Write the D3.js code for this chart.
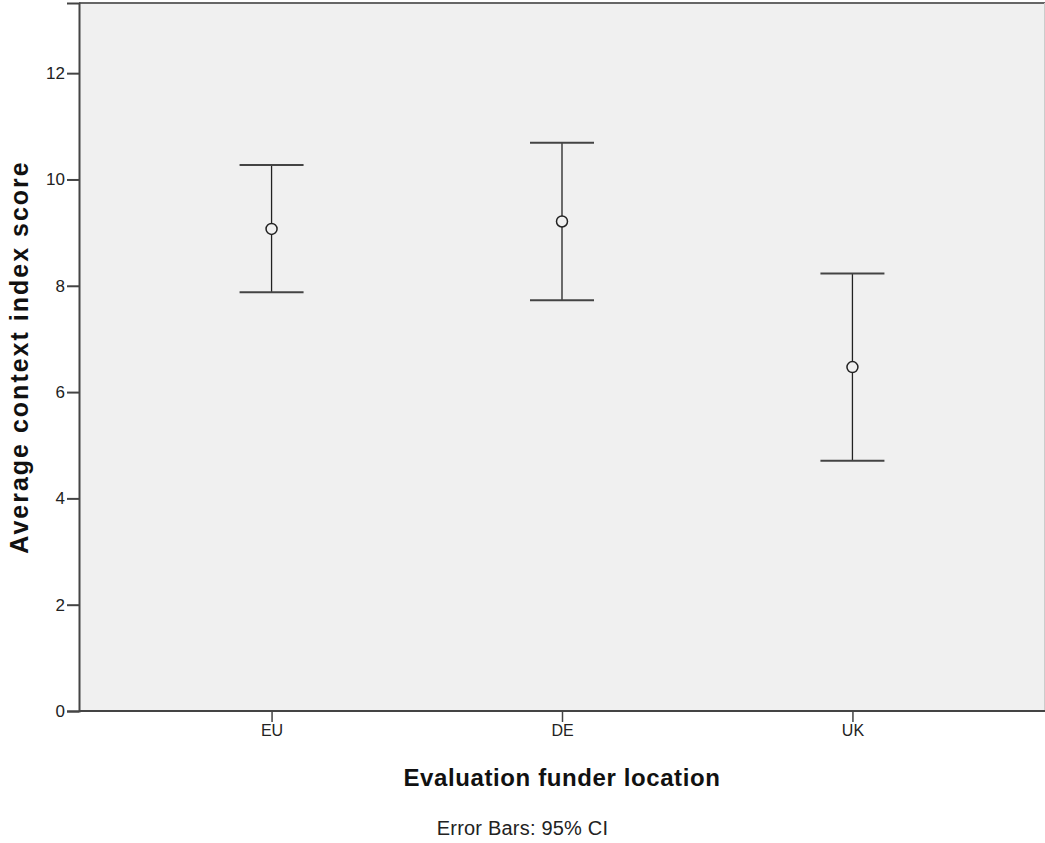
<!DOCTYPE html>
<html>
<head>
<meta charset="utf-8">
<script src="https://cdn.jsdelivr.net/npm/d3@7"></script>
<style>
  html, body { margin: 0; padding: 0; background: #fff; }
  svg { display: block; font-family: "Liberation Sans", Arial, sans-serif; }
</style>
</head>
<body>
<div id="chart"></div>
<script>
// Data
const categories = ['EU', 'DE', 'UK'];
const means = [9.07, 9.21, 6.47];
const lowerCI = [7.88, 7.73, 4.71];
const upperCI = [10.27, 10.69, 8.23];
const yTicks = [0, 2, 4, 6, 8, 10, 12];

const width = 1045, height = 843;
const margin = { top: 3, right: 0, bottom: 132, left: 79 };

const svg = d3.select('#chart')
    .append('svg')
    .attr('width', width)
    .attr('height', height);

const x = d3.scalePoint()
    .domain(categories)
    .range([margin.left, width - margin.right])
    .padding(0.663);

const y = d3.scaleLinear()
    .domain([0, 13.32])
    .range([height - margin.bottom, margin.top]);

// Plot background
svg.append('rect')
    .attr('x', margin.left)
    .attr('y', margin.top)
    .attr('width', width - margin.left - margin.right)
    .attr('height', height - margin.top - margin.bottom)
    .attr('fill', '#f0f0f0');

// top frame line
svg.append('line')
    .attr('x1', margin.left).attr('x2', width)
    .attr('y1', margin.top).attr('y2', margin.top)
    .attr('stroke', '#666').attr('stroke-width', 2);

// right edge
svg.append('line')
    .attr('x1', width - 0.5).attr('x2', width - 0.5)
    .attr('y1', margin.top).attr('y2', height - margin.bottom)
    .attr('stroke', '#ccc').attr('stroke-width', 1);

// Axes
const yAxis = d3.axisLeft(y).tickValues(yTicks).tickSize(12).tickPadding(2);
const gy = svg.append('g')
    .attr('transform', `translate(${margin.left},0)`)
    .call(yAxis);
gy.select('.domain').attr('stroke', '#444').attr('stroke-width', 2);
gy.selectAll('.tick line').attr('stroke', '#444').attr('stroke-width', 2).attr('x2', -12);
gy.selectAll('.tick text').attr('fill', '#222').style('font-size', '17px');

const xAxis = d3.axisBottom(x).tickSize(11).tickPadding(3);
const gx = svg.append('g')
    .attr('transform', `translate(0,${height - margin.bottom})`)
    .call(xAxis);
gx.select('.domain').attr('stroke', '#444').attr('stroke-width', 2).attr('d', `M${margin.left},0H${width}`);
gx.selectAll('.tick line').attr('stroke', '#444').attr('stroke-width', 1.5);
gx.selectAll('.tick text').attr('fill', '#222').style('font-size', '16px');

// Error bars
const rows = categories.map((c, i) => ({ c, m: means[i], lo: lowerCI[i], hi: upperCI[i] }));
const capHalf = 32;

const bars = svg.append('g').selectAll('g')
    .data(rows)
    .enter()
    .append('g');

bars.append('line')
    .attr('x1', d => x(d.c)).attr('x2', d => x(d.c))
    .attr('y1', d => y(d.lo)).attr('y2', d => y(d.hi))
    .attr('stroke', '#222').attr('stroke-width', 1.3);

bars.append('line')
    .attr('x1', d => x(d.c) - capHalf).attr('x2', d => x(d.c) + capHalf)
    .attr('y1', d => y(d.hi)).attr('y2', d => y(d.hi))
    .attr('stroke', '#444').attr('stroke-width', 2);

bars.append('line')
    .attr('x1', d => x(d.c) - capHalf).attr('x2', d => x(d.c) + capHalf)
    .attr('y1', d => y(d.lo)).attr('y2', d => y(d.lo))
    .attr('stroke', '#444').attr('stroke-width', 2);

bars.append('circle')
    .attr('cx', d => x(d.c))
    .attr('cy', d => y(d.m))
    .attr('r', 5.5)
    .attr('fill', '#f0f0f0')
    .attr('stroke', '#222')
    .attr('stroke-width', 1.5);

// Titles
const plotMidX = (margin.left + width) / 2;
svg.append('text')
    .attr('x', plotMidX)
    .attr('y', 786)
    .attr('text-anchor', 'middle')
    .style('font-size', '24px')
    .style('font-weight', 'bold')
    .style('letter-spacing', '0.6px')
    .attr('fill', '#111')
    .text('Evaluation funder location');

svg.append('text')
    .attr('x', width / 2)
    .attr('y', 835)
    .attr('text-anchor', 'middle')
    .style('font-size', '20px')
    .style('letter-spacing', '0.2px')
    .attr('fill', '#222')
    .text('Error Bars: 95% CI');

svg.append('text')
    .attr('transform', `translate(28,${(margin.top + height - margin.bottom) / 2}) rotate(-90)`)
    .attr('text-anchor', 'middle')
    .style('font-size', '25px')
    .style('font-weight', 'bold')
    .style('letter-spacing', '2px')
    .attr('fill', '#111')
    .text('Average context index score');
</script>
</body>
</html>
